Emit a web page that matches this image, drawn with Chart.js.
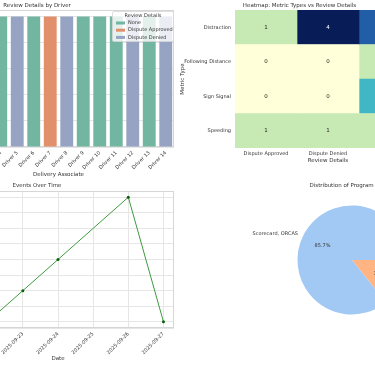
<!DOCTYPE html>
<html>
<head>
<meta charset="utf-8">
<script src="https://cdn.jsdelivr.net/npm/chart.js@4.4.1/dist/chart.umd.min.js"></script>
<style>
  html, body { margin: 0; padding: 0; width: 375px; height: 366px; overflow: hidden; background: #fff; }
  body { position: relative; }
  canvas { position: absolute; }
</style>
</head>
<body>
<canvas id="driverChart" width="290" height="180" style="left:-100px;top:0"></canvas>
<canvas id="heatmapChart" width="270" height="180" style="left:178px;top:0"></canvas>
<canvas id="eventsChart" width="290" height="186" style="left:-100px;top:180px"></canvas>
<canvas id="programChart" width="210" height="186" style="left:247px;top:180px"></canvas>
<script>
// --- data ---
const drivers = ['Driver 1', 'Driver 2', 'Driver 3', 'Driver 4', 'Driver 5', 'Driver 6', 'Driver 7',
  'Driver 8', 'Driver 9', 'Driver 10', 'Driver 11', 'Driver 12', 'Driver 13', 'Driver 14'];
const driverReview = ['None', 'Dispute Approved', 'Dispute Denied', 'None', 'Dispute Denied', 'None',
  'Dispute Approved', 'Dispute Denied', 'None', 'None', 'None', 'Dispute Denied', 'None', 'Dispute Denied'];
const driverCounts = [1, 1, 1, 1, 1, 1, 1, 1, 1, 1, 1, 1, 1, 1];
const driverTicks = [0, 0.2, 0.4, 0.6, 0.8, 1.0];
const reviewTypes = ['None', 'Dispute Approved', 'Dispute Denied'];
const reviewColors = ['#72b6a1', '#e1906b', '#96a3c2'];

const metricTypes = ['Distraction', 'Following Distance', 'Sign Signal', 'Speeding'];
const heatColumns = ['Dispute Approved', 'Dispute Denied', 'None'];
const approvedCounts = [1, 0, 0, 1];
const deniedCounts = [4, 0, 0, 1];
const noneCounts = [3, 1, 2, 1];
// YlGnBu steps for counts 0..4
const heatPalette = ['#ffffd9', '#c7e9b4', '#41b6c4', '#225ea8', '#081d58'];

const eventDates = ['2025-09-21', '2025-09-22', '2025-09-23', '2025-09-24', '2025-09-26', '2025-09-27'];
const eventCounts = [2, 1, 2, 3, 5, 1];

const programLabels = ['Scorecard, ORCAS', 'Scorecard'];
const programCounts = [6, 1];
const programColors = ['#a1c9f4', '#ffb482'];

// --- shared look ---
Chart.defaults.font.family = "'DejaVu Sans', sans-serif";
Chart.defaults.font.size = 5;
Chart.defaults.color = '#333';
Chart.defaults.animation = false;

const titleFont = { size: 5.5, weight: 'normal' };
const gridColor = '#e6e6e6';

// box around the plot area, like the seaborn whitegrid spines
const framePlugin = {
  id: 'frame',
  beforeDatasetsDraw(chart) {
    const { ctx, chartArea: a } = chart;
    ctx.save();
    ctx.strokeStyle = '#d6d6d6';
    ctx.lineWidth = 1;
    ctx.strokeRect(a.left + 0.5, a.top + 0.5, a.width - 1, a.height - 1);
    ctx.restore();
  }
};

// legend drawn inside the plot, upper right
const legendBoxPlugin = {
  id: 'legendBox',
  afterDraw(chart) {
    const { ctx, chartArea: a } = chart;
    const w = 61, h = 30;
    const x = a.right - w - 1, y = a.top + 1;
    ctx.save();
    ctx.fillStyle = 'rgba(255,255,255,0.8)';
    ctx.strokeStyle = '#d6d6d6';
    ctx.lineWidth = 0.8;
    ctx.beginPath();
    ctx.roundRect(x + 0.5, y + 0.5, w, h, 1.5);
    ctx.fill();
    ctx.stroke();
    ctx.font = "5px 'DejaVu Sans', sans-serif";
    ctx.fillStyle = '#333';
    ctx.textBaseline = 'middle';
    ctx.textAlign = 'center';
    ctx.fillText('Review Details', x + w / 2 + 0.5, y + 5);
    ctx.textAlign = 'left';
    reviewTypes.forEach((t, i) => {
      const ry = y + 12 + i * 7.2;
      ctx.fillStyle = reviewColors[i];
      ctx.fillRect(x + 4, ry - 1.5, 9, 3);
      ctx.fillStyle = '#333';
      ctx.fillText(t, x + 16, ry);
    });
    ctx.restore();
  }
};

// --- 1. review details by driver ---
new Chart(document.getElementById('driverChart'), {
  type: 'bar',
  data: {
    labels: drivers,
    datasets: [{
      data: driverCounts,
      backgroundColor: driverReview.map(r => reviewColors[reviewTypes.indexOf(r)]),
      borderWidth: 0,
      barPercentage: 0.78,
      categoryPercentage: 1
    }]
  },
  options: {
    responsive: false,
    devicePixelRatio: 1,
    layout: { padding: { right: 16 } },
    plugins: {
      legend: { display: false },
      tooltip: { enabled: false },
      title: { display: true, text: 'Review Details by Driver', font: titleFont, padding: { top: 2.2, bottom: 1.2 } }
    },
    scales: {
      x: {
        grid: { display: false, drawTicks: false },
        border: { display: false },
        ticks: { minRotation: 45, maxRotation: 45, autoSkip: false, padding: 3 },
        title: { display: true, text: 'Delivery Associate', font: titleFont, padding: { top: 0, bottom: 2 } },
        afterFit(scale) { scale.height = 33; }
      },
      y: {
        min: 0,
        max: 1.05,
        grid: { color: gridColor, drawTicks: false },
        border: { display: false },
        ticks: { padding: 3, callback: v => v.toFixed(1) },
        title: { display: true, text: 'Count', font: titleFont },
        afterBuildTicks(scale) { scale.ticks = driverTicks.map(v => ({ value: v })); },
        afterFit(scale) { scale.width = 43; }
      }
    }
  },
  plugins: [framePlugin, legendBoxPlugin]
});

// --- 2. heatmap: metric types vs review details ---
const heatCounts = [approvedCounts, deniedCounts, noneCounts];

const cellTextPlugin = {
  id: 'cellText',
  afterDatasetsDraw(chart) {
    const { ctx } = chart;
    ctx.save();
    ctx.font = "5.5px 'DejaVu Sans', sans-serif";
    ctx.textAlign = 'center';
    ctx.textBaseline = 'middle';
    chart.data.datasets.forEach((ds, di) => {
      chart.getDatasetMeta(di).data.forEach((bar, ri) => {
        const n = heatCounts[di][ri];
        ctx.fillStyle = n >= 3 ? '#ffffff' : '#262626';
        ctx.fillText(String(n), (bar.x + bar.base) / 2, bar.y);
      });
    });
    ctx.restore();
  }
};

new Chart(document.getElementById('heatmapChart'), {
  type: 'bar',
  data: {
    labels: metricTypes,
    datasets: heatColumns.map((col, i) => ({
      label: col,
      data: metricTypes.map(() => 1),
      backgroundColor: heatCounts[i].map(n => heatPalette[n]),
      borderWidth: 0,
      barPercentage: 1,
      categoryPercentage: 1
    }))
  },
  options: {
    indexAxis: 'y',
    responsive: false,
    devicePixelRatio: 1,
    layout: { padding: { right: 27 } },
    plugins: {
      legend: { display: false },
      tooltip: { enabled: false },
      title: { display: true, text: 'Heatmap: Metric Types vs Review Details', font: titleFont, padding: { top: 2.2, bottom: 1.2 } }
    },
    scales: {
      x: {
        stacked: true,
        min: 0,
        max: heatColumns.length,
        grid: { display: false, drawTicks: false },
        border: { display: false },
        ticks: { autoSkip: false, maxRotation: 0, padding: 3, callback: (v, i) => heatColumns[i] },
        afterBuildTicks(scale) { scale.ticks = heatColumns.map((c, i) => ({ value: i + 0.5 })); },
        title: { display: true, text: 'Review Details', font: titleFont, padding: { top: 0, bottom: 16 } },
        afterFit(scale) { scale.height = 32; }
      },
      y: {
        stacked: true,
        grid: { display: false, drawTicks: false },
        border: { display: false },
        ticks: { padding: 4 },
        title: { display: true, text: 'Metric Type', font: titleFont, padding: { top: 1, bottom: 0 } },
        afterFit(scale) { scale.width = 57; }
      }
    }
  },
  plugins: [cellTextPlugin]
});

// --- 3. events over time ---
const dayMs = 86400000;
const firstDay = Date.parse(eventDates[0]);
const eventDays = eventDates.map(d => (Date.parse(d) - firstDay) / dayMs);
const lastDay = eventDays[eventDays.length - 1];
const countSpan = Math.max(...eventCounts) - Math.min(...eventCounts);

new Chart(document.getElementById('eventsChart'), {
  type: 'line',
  data: {
    datasets: [{
      data: eventDays.map((d, i) => ({ x: d, y: eventCounts[i] })),
      borderColor: '#3f9a3f',
      borderWidth: 1,
      pointRadius: 1.5,
      pointBackgroundColor: '#0b5d0b',
      pointBorderWidth: 0,
      tension: 0
    }]
  },
  options: {
    responsive: false,
    devicePixelRatio: 1,
    layout: { padding: { right: 16 } },
    plugins: {
      legend: { display: false },
      tooltip: { enabled: false },
      title: { display: true, text: 'Events Over Time', font: titleFont, padding: { top: 2.7, bottom: 1.7 } }
    },
    scales: {
      x: {
        type: 'linear',
        min: -lastDay * 0.05,
        max: lastDay * 1.05,
        grid: { color: gridColor, drawTicks: false },
        border: { display: false },
        ticks: {
          minRotation: 45,
          maxRotation: 45,
          autoSkip: false,
          padding: 3,
          callback: v => new Date(firstDay + v * dayMs).toISOString().slice(0, 10)
        },
        // one tick per calendar day
        afterBuildTicks(scale) {
          scale.ticks = Array.from({ length: lastDay + 1 }, (_, d) => ({ value: d }));
        },
        title: { display: true, text: 'Date', font: titleFont, padding: { top: 0, bottom: 4 } },
        afterFit(scale) { scale.height = 38; }
      },
      y: {
        type: 'linear',
        min: Math.min(...eventCounts) - countSpan * 0.05,
        max: Math.max(...eventCounts) + countSpan * 0.05,
        grid: { color: gridColor, drawTicks: false },
        border: { display: false },
        ticks: { stepSize: 0.5, padding: 3 },
        title: { display: true, text: 'Number of Events', font: titleFont },
        afterFit(scale) { scale.width = 42; }
      }
    }
  },
  plugins: [framePlugin]
});

// --- 4. distribution of program ---
const pieLabelPlugin = {
  id: 'pieLabels',
  afterDatasetsDraw(chart) {
    const { ctx } = chart;
    const total = chart.data.datasets[0].data.reduce((a, b) => a + b, 0);
    ctx.save();
    ctx.font = "5px 'DejaVu Sans', sans-serif";
    ctx.fillStyle = '#333';
    ctx.textBaseline = 'middle';
    chart.getDatasetMeta(0).data.forEach((arc, i) => {
      const mid = (arc.startAngle + arc.endAngle) / 2;
      const r = arc.outerRadius;
      const cx = Math.cos(mid), cy = Math.sin(mid);
      ctx.textAlign = cx >= 0 ? 'left' : 'right';
      ctx.fillText(chart.data.labels[i], arc.x + cx * r * 1.1, arc.y + cy * r * 1.1);
      ctx.textAlign = 'center';
      const pct = (chart.data.datasets[0].data[i] / total * 100).toFixed(1) + '%';
      ctx.fillText(pct, arc.x + cx * r * 0.6, arc.y + cy * r * 0.6);
    });
    ctx.restore();
  }
};

// matplotlib draws counter-clockwise from 3 o'clock; chart.js runs clockwise, so reverse
new Chart(document.getElementById('programChart'), {
  type: 'pie',
  data: {
    labels: programLabels.slice().reverse(),
    datasets: [{
      data: programCounts.slice().reverse(),
      backgroundColor: programColors.slice().reverse(),
      borderWidth: 0
    }]
  },
  options: {
    responsive: false,
    devicePixelRatio: 1,
    rotation: 90,
    layout: { padding: { bottom: 51.5 } },
    plugins: {
      legend: { display: false },
      tooltip: { enabled: false },
      title: { display: true, text: 'Distribution of Program Impact', font: titleFont, padding: { top: 2.7, bottom: 16.2 } }
    }
  },
  plugins: [pieLabelPlugin]
});
</script>
</body>
</html>
